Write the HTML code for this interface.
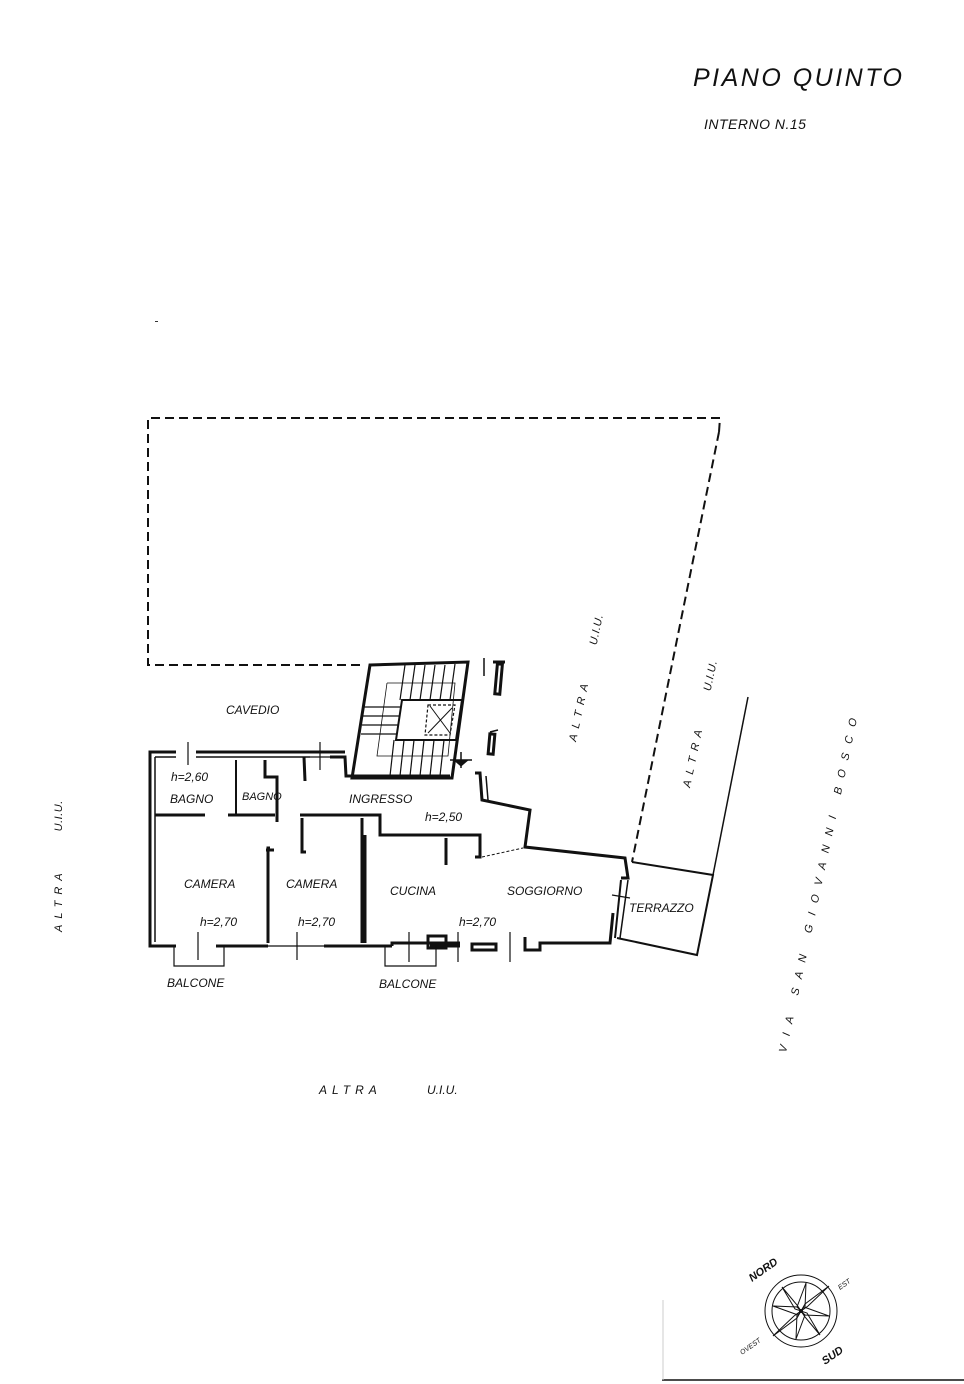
<!DOCTYPE html>
<html><head><meta charset="utf-8"><style>
html,body{margin:0;padding:0;background:#fff;}
svg{display:block;}
text{font-family:"Liberation Sans",sans-serif;font-style:italic;fill:#111;}
</style></head><body>
<svg width="964" height="1384" viewBox="0 0 964 1384" xmlns="http://www.w3.org/2000/svg">
<!-- titles -->
<text x="693" y="86" font-size="25" letter-spacing="2.5">PIANO  QUINTO</text>
<text x="704" y="129" font-size="14" letter-spacing="0.5">INTERNO  N.15</text>
<rect x="155" y="321" width="3" height="1" fill="#333"/>

<!-- dashed outline -->
<g fill="none" stroke="#111" stroke-width="2" stroke-dasharray="9,5">
<polyline points="360,665 148,665 148,418 720,418 719,432"/>
<line x1="719" y1="432" x2="632" y2="862"/>
</g>

<!-- ALTRA right boundary line -->
<line x1="748" y1="697" x2="713" y2="875" stroke="#111" stroke-width="1.5"/>

<!-- walls -->
<g fill="none" stroke="#111" stroke-width="3" stroke-linejoin="miter">
<polyline points="176,752 150,752 150,946 176,946"/>
<polyline points="196,752 345,752"/>
<line x1="155" y1="757" x2="155" y2="942" stroke-width="1.5"/>
<polyline points="155,757 176,757" stroke-width="1.5"/>
<polyline points="196,757 310,757" stroke-width="1.5"/>
<polyline points="330,757 345,757 346,776 450,776"/>
<line x1="155" y1="815" x2="205" y2="815"/>
<line x1="228" y1="815" x2="275" y2="815"/>
<polyline points="236,760 236,815" stroke-width="2"/>
<polyline points="265,760 265,777 277,777 277,822"/>
<polyline points="304,757 305,781"/>
<polyline points="270,848 268,848 268,943"/>
<polyline points="274,850 266,850"/>
<polyline points="300,815 380,815 380,835 480,835 480,857 475,857"/>
<polyline points="302,818 302,852 306,852"/>
<line x1="362" y1="818" x2="362" y2="943"/>
<line x1="365" y1="835" x2="365" y2="943"/>
<line x1="446" y1="838" x2="446" y2="865"/>
<polyline points="150,946 176,946"/>
<line x1="216" y1="946" x2="268" y2="946"/>
<line x1="324" y1="946" x2="392" y2="946"/>
<polyline points="392,946 392,943 460,943"/>
<line x1="460" y1="946" x2="430" y2="946"/>
<rect x="428" y="936" width="18" height="12"/>
<rect x="472" y="944" width="24" height="6"/>
<polyline points="525,937 525,950 540,950 540,943 610,943 613,913"/>
<polyline points="475,773 480,773 482,800 530,810 525,847 625,858 628,878 621,878"/>
<line x1="486" y1="776" x2="488" y2="800" stroke-width="1.5"/>
<line x1="490" y1="732" x2="498" y2="730" stroke-width="1.5"/>
<rect x="489" y="734" width="5" height="20" transform="rotate(5 491 744)"/>
<rect x="496" y="664" width="5" height="30" transform="rotate(5 498 680)"/>
<line x1="493" y1="662" x2="505" y2="662"/>
<line x1="484" y1="658" x2="484" y2="676" stroke-width="1.5"/>
<polyline points="632,862 713,875 697,955 617,938" stroke-width="2"/>
<line x1="621" y1="880" x2="615" y2="938" stroke-width="2"/>
<line x1="628" y1="880" x2="620" y2="938" stroke-width="1.5"/>
</g>
<line x1="482" y1="857" x2="523" y2="848" stroke="#111" stroke-width="1" stroke-dasharray="3,2"/>
<g stroke="#111" stroke-width="1.2">
<line x1="188" y1="742" x2="188" y2="765"/>
<line x1="320" y1="742" x2="320" y2="770"/>
<line x1="310" y1="757" x2="332" y2="757"/>
<line x1="198" y1="932" x2="198" y2="960"/>
<line x1="297" y1="932" x2="297" y2="960"/>
<line x1="409" y1="932" x2="409" y2="962"/>
<line x1="458" y1="932" x2="458" y2="962"/>
<line x1="510" y1="932" x2="510" y2="962"/>
<line x1="268" y1="946" x2="324" y2="946"/>
<line x1="612" y1="895" x2="630" y2="898"/>
<polyline points="174,946 174,966 224,966 224,946" fill="none"/>
<polyline points="385,946 385,966 436,966 436,946" fill="none"/>
</g>

<!-- stairs -->
<g fill="none" stroke="#111">
<polygon points="370,665 468,662 452,778 352,778" stroke-width="3"/>
<polygon points="402,700 462,700 456,740 396,740" stroke-width="2"/>
<polygon points="428,705 455,705 450,735 425,735" stroke-width="1.2" stroke-dasharray="3,2"/>
<line x1="430" y1="706" x2="450" y2="733" stroke-width="1"/>
<line x1="452" y1="708" x2="428" y2="733" stroke-width="1"/>
<g stroke-width="1.2">
<line x1="405" y1="665" x2="400" y2="700"/><line x1="415" y1="665" x2="410" y2="700"/>
<line x1="425" y1="665" x2="420" y2="700"/><line x1="435" y1="665" x2="430" y2="700"/>
<line x1="445" y1="665" x2="440" y2="700"/><line x1="455" y1="664" x2="450" y2="700"/>
<line x1="394" y1="740" x2="390" y2="776"/><line x1="404" y1="740" x2="400" y2="776"/>
<line x1="414" y1="740" x2="410" y2="776"/><line x1="424" y1="740" x2="420" y2="776"/>
<line x1="434" y1="740" x2="430" y2="776"/><line x1="444" y1="740" x2="440" y2="776"/>
<line x1="364" y1="707" x2="400" y2="707"/><line x1="363" y1="716" x2="399" y2="716"/>
<line x1="362" y1="725" x2="398" y2="725"/><line x1="361" y1="734" x2="397" y2="734"/>
<polyline points="387,683 455,683 448,756 377,756 387,683" stroke-width="0.8"/>
</g>
<line x1="450" y1="760" x2="472" y2="760" stroke-width="1.5"/>
<line x1="461" y1="752" x2="461" y2="768" stroke-width="1.5"/>
<polygon points="454,760 468,760 461,766" fill="#111"/>
</g>

<!-- room labels -->
<g font-size="12">
<text x="226" y="714">CAVEDIO</text>
<text x="171" y="781">h=2,60</text>
<text x="170" y="803">BAGNO</text>
<text x="242" y="800" font-size="11">BAGNO</text>
<text x="349" y="803">INGRESSO</text>
<text x="425" y="821">h=2,50</text>
<text x="184" y="888">CAMERA</text>
<text x="286" y="888">CAMERA</text>
<text x="390" y="895">CUCINA</text>
<text x="507" y="895">SOGGIORNO</text>
<text x="200" y="926">h=2,70</text>
<text x="298" y="926">h=2,70</text>
<text x="459" y="926">h=2,70</text>
<text x="629" y="912">TERRAZZO</text>
<text x="167" y="987">BALCONE</text>
<text x="379" y="988">BALCONE</text>
<text x="319" y="1094" letter-spacing="5">ALTRA</text>
<text x="427" y="1094">U.I.U.</text>
</g>
<g font-size="11">
<text transform="translate(62,932) rotate(-90)" letter-spacing="6">ALTRA<tspan dx="36" letter-spacing="0.5">U.I.U.</tspan></text>
<text transform="translate(576,742) rotate(-78)" letter-spacing="6">ALTRA<tspan dx="34" letter-spacing="0.5">U.I.U.</tspan></text>
<text transform="translate(690,788) rotate(-78)" letter-spacing="6">ALTRA<tspan dx="34" letter-spacing="0.5">U.I.U.</tspan></text>
<text transform="translate(786,1053) rotate(-78)" letter-spacing="9.5">VIA SAN GIOVANNI BOSCO</text>
</g>

<!-- compass -->
<g fill="none" stroke="#111" stroke-width="1">
<circle cx="801" cy="1311" r="36"/>
<circle cx="801" cy="1311" r="29"/>
<polygon points="806,1283 805,1308 801,1311 797,1307" />
<polygon points="796,1339 797,1314 801,1311 805,1315"/>
<polygon points="773,1306 798,1307 801,1311 798,1315"/>
<polygon points="829,1316 804,1315 801,1311 804,1307"/>
<polygon points="782,1287 797,1305 801,1311 795,1309"/>
<polygon points="820,1335 805,1317 801,1311 807,1313"/>
<polygon points="829,1286 808,1306 801,1311 805,1304"/>
<polygon points="773,1336 794,1316 801,1311 797,1318"/>
<circle cx="801" cy="1311" r="1.5" fill="#111"/>
</g>
<text transform="translate(752,1282) rotate(-35)" font-size="11" font-weight="bold" font-style="normal" font-family="Liberation Serif,serif">NORD</text>
<text transform="translate(825,1365) rotate(-35)" font-size="11" font-weight="bold" font-style="normal" font-family="Liberation Serif,serif">SUD</text>
<text transform="translate(840,1290) rotate(-35)" font-size="7" font-style="normal">EST</text>
<text transform="translate(742,1355) rotate(-35)" font-size="7" font-style="normal">OVEST</text>
<line x1="662" y1="1380" x2="964" y2="1380" stroke="#111" stroke-width="1.5"/>
<line x1="663" y1="1300" x2="663" y2="1380" stroke="#ccc" stroke-width="1"/>
</svg>
</body></html>
